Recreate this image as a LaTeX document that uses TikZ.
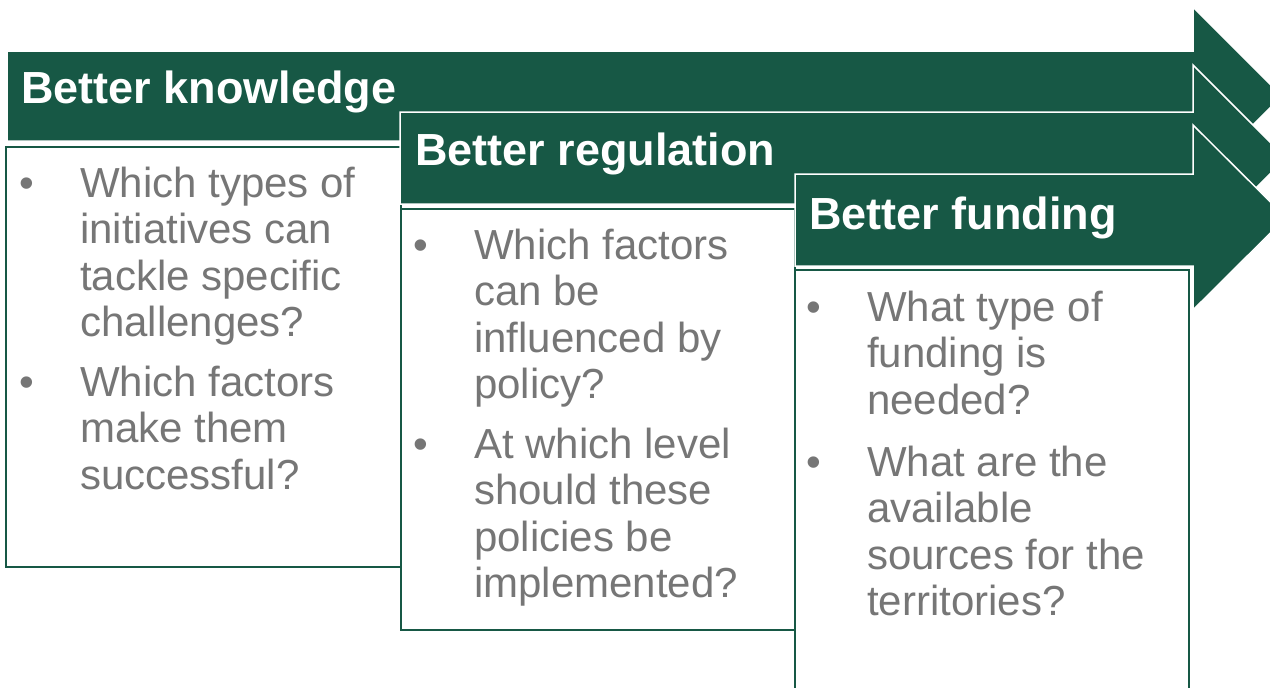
\documentclass[tikz,border=0pt]{standalone}
\usepackage{fontspec}
\setmainfont{Liberation Sans}
\definecolor{dkgreen}{HTML}{175845}
\definecolor{txtgray}{HTML}{767676}
\tikzset{
  arrowshape/.style={fill=dkgreen, draw=white, line width=1.5pt, line join=miter},
  qbox/.style={fill=white, draw=dkgreen, line width=2pt},
  title/.style={anchor=base west, inner sep=0pt, text=white, font=\fontsize{45}{50}\selectfont\bfseries},
  qtext/.style={anchor=base west, inner sep=0pt, text=txtgray, align=left, font=\fontsize{42}{46.5}\selectfont},
  bul/.style={anchor=base, inner sep=0pt, text=txtgray, font=\fontsize{42}{46.5}\selectfont}
}
\begin{document}
\begin{tikzpicture}[x=1pt,y=-1pt]
\useasboundingbox (0,0) rectangle (1270,688);
\clip (0,0) rectangle (1270,688);
% arrow 1 and box 1
\draw[arrowshape] (7,51) -- (1193,51) -- (1193,7) -- (1282,96) -- (1193,185) -- (1193,141) -- (7,141) -- cycle;
\draw[qbox] (6,147) rectangle (401,567);
\node[title] (t1) at (21,103) {Better knowledge};
\node[bul] (b11) at (27,197) {•};
\node[qtext] (q11) at (80,336.5) {Which types of\\initiatives can\\tackle specific\\challenges?};
\node[bul] (b12) at (27,396) {•};
\node[qtext] (q12) at (80,489) {Which factors\\make them\\successful?};
% arrow 2 and box 2
\draw[arrowshape] (400,112) -- (1193,112) -- (1193,65) -- (1286,158) -- (1193,251) -- (1193,204) -- (400,204) -- cycle;
\draw[qbox] (401,209) rectangle (795,630);
\node[title] (t2) at (415,165) {Better regulation};
\node[bul] (b21) at (421,259) {•};
\node[qtext] (q21) at (474,398.5) {Which factors\\can be\\influenced by\\policy?};
\node[bul] (b22) at (421,458) {•};
\node[qtext] (q22) at (474,597.5) {At which level\\should these\\policies be\\implemented?};
% arrow 3 and box 3
\draw[arrowshape] (795,174) -- (1193,174) -- (1193,125) -- (1286,217.5) -- (1193,310) -- (1193,266) -- (795,266) -- cycle;
\draw[qbox] (795,270) rectangle (1189,700);
\node[title] (t3) at (809,229) {Better funding};
\node[bul] (b31) at (814,321) {•};
\node[qtext] (q31) at (867,414) {What type of\\funding is\\needed?};
\node[bul] (b32) at (814,476) {•};
\node[qtext] (q32) at (867,615.5) {What are the\\available\\sources for the\\territories?};
\end{tikzpicture}
\end{document}
